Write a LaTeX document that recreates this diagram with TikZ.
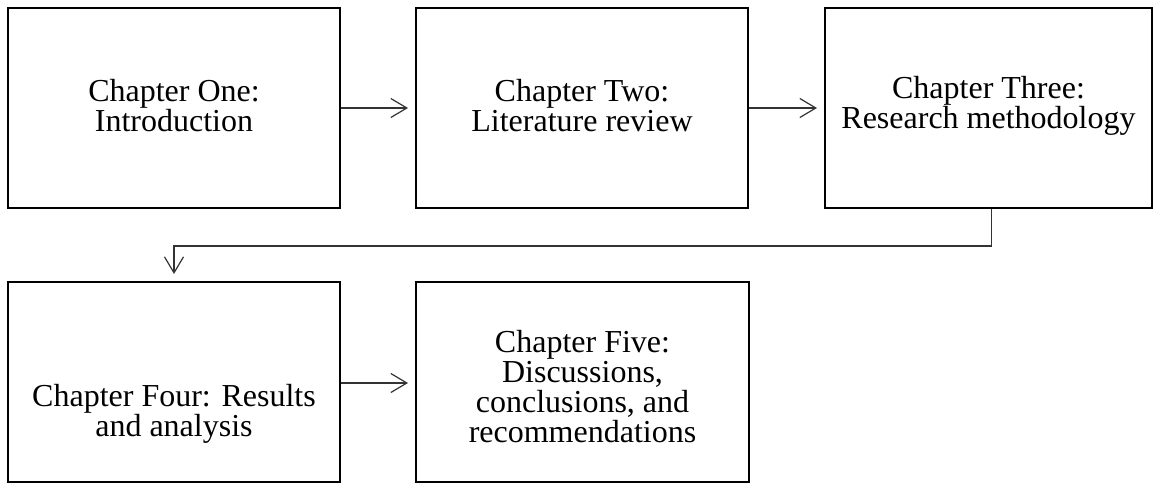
\documentclass[tikz,border=0pt]{standalone}
\usepackage{fontspec}
\setmainfont{Liberation Serif}
\usetikzlibrary{arrows.meta,calc}
\begin{document}
\begin{tikzpicture}[x=1pt,y=-1pt,
  box/.style={draw=black, line width=2pt, minimum width=332pt, minimum height=200pt, inner sep=0pt},
  lbl/.style={align=center, font=\fontsize{32}{30}\selectfont},
  conn/.style={draw=black!80, line width=1.2pt, -{Straight Barb[length=16pt,width=19pt]}, shorten >=7pt}]
  \useasboundingbox (0,0) rectangle (1154,483);
  % top row
  \node[box] (b1) at (174,108) {};
  \node[box] (b2) at (582,108) {};
  \node[box, minimum width=327pt] (b3) at (988.5,108) {};
  % bottom row
  \node[box] (b4) at (174,382) {};
  \node[box, minimum width=333pt] (b5) at (582.5,382) {};
  % chapter titles
  \node[lbl] (t1) at (174,106) {Chapter One:\\Introduction};
  \node[lbl] (t2) at (582,106) {Chapter Two:\\Literature review};
  \node[lbl] (t3) at (988.5,106) {Chapter Three:\\Research methodology};
  \node[lbl] (t4) at (174,414) {Chapter Four: Results\\and analysis};
  \node[lbl] (t5) at (582.5,387) {Chapter Five:\\Discussions,\\conclusions, and\\recommendations};
  % connectors
  \coordinate (turn) at (0,246);
  \draw[conn] (b1.east) -- (b2.west);
  \draw[conn] (b2.east) -- (b3.west);
  \draw[conn] ($(b3.south)+(3,0)$) |- (b4.north |- turn) -- (b4.north);
  \draw[conn] ($(b4.east)+(0,1)$) -- ($(b5.west)+(0,1)$);
\end{tikzpicture}
\end{document}
